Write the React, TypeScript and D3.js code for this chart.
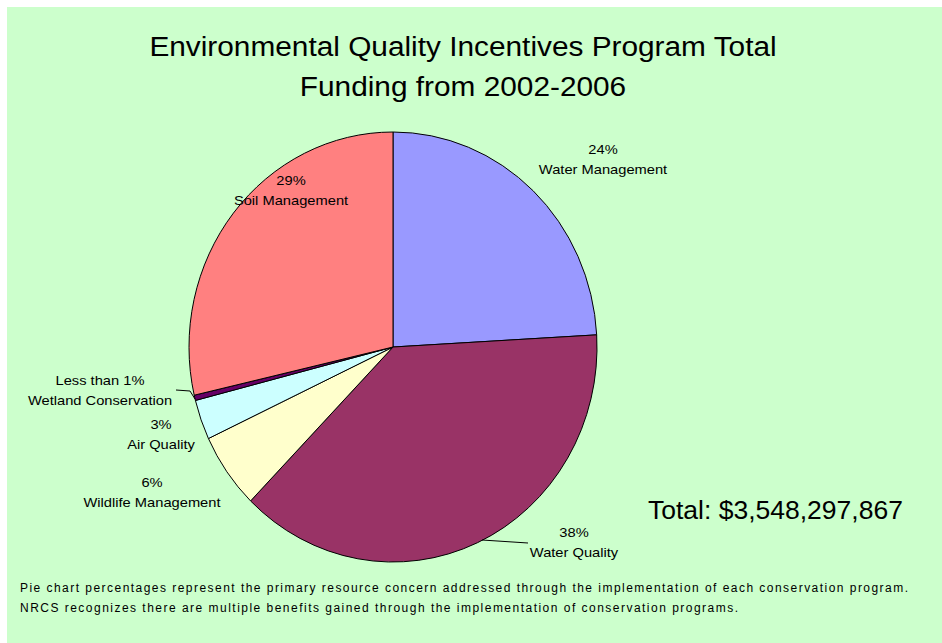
import React from "react";
import * as d3 from "d3";

const segments = ["Water Management", "Water Quality", "Wildlife Management", "Air Quality", "Wetland Conservation", "Soil Management"];
const shares = [24.1, 38.2, 5.7, 3.0, 0.4, 28.6];
const pctLabels = ["24%", "38%", "6%", "3%", "Less than 1%", "29%"];
const colors = ["#9999FF", "#993366", "#FFFFCC", "#CCFFFF", "#660066", "#FF8080"];
const titleLines = ["Environmental Quality Incentives Program Total", "Funding from 2002-2006"];
const totalText = "Total: $3,548,297,867";
const footerLines = [
  "Pie chart percentages represent the primary resource concern addressed through the implementation of each conservation program.",
  "NRCS recognizes there are multiple benefits gained through the implementation of conservation programs.",
];

// layout
const W = 942, H = 643;
const CX = 393, CY = 347, RY = 215, RX = 204;
const labelPos = [
  { x: 603, y: 154 },
  { x: 574, y: 537 },
  { x: 152, y: 487 },
  { x: 161, y: 429 },
  { x: 100, y: 385 },
  { x: 291, y: 185 },
];
const FONT = "Arial, 'Liberation Sans', sans-serif";

function T({ x, y, size, sx = 1, anchor = "middle", children, ...rest }: any) {
  return (
    <text transform={`translate(${x},${y}) scale(${sx},1)`} fontSize={size} textAnchor={anchor} fontFamily={FONT} fill="#000" {...rest}>
      {children}
    </text>
  );
}

export default function App() {
  const pie = d3.pie<number>().sort(null).value((d) => d)(shares);
  const arc = d3.arc<d3.PieArcDatum<number>>().innerRadius(0).outerRadius(RY);
  return (
    <svg width={W} height={H} style={{ position: "absolute", left: 0, top: 0 }}>
      <rect x={7} y={7} width={W - 7} height={H - 7} fill="#CCFFCC" />
      {titleLines.map((t, i) => (
        <T key={i} x={463} y={56 + i * 40} size={28} sx={1.065}>{t}</T>
      ))}
      <g transform={`translate(${CX},${CY}) scale(${RX / RY},1)`}>
        {pie.map((p, i) => (
          <path key={i} d={arc(p) || ""} fill={colors[i]} stroke="#000" strokeWidth={1} vectorEffect="non-scaling-stroke" strokeLinejoin="round" />
        ))}
      </g>
      {segments.map((s, i) => (
        <g key={i}>
          <T x={labelPos[i].x} y={labelPos[i].y} size={13} sx={1.13}>{pctLabels[i]}</T>
          <T x={labelPos[i].x} y={labelPos[i].y + 20} size={13} sx={1.13}>{s}</T>
        </g>
      ))}
      <polyline points="176,390 190,391 195,399" fill="none" stroke="#000" strokeWidth={1} />
      <polyline points="482,540 528,543" fill="none" stroke="#000" strokeWidth={1} />
      <T x={648} y={519} size={26.5} anchor="start">{totalText}</T>
      {footerLines.map((t, i) => (
        <text key={i} x={20} y={592 + i * 20} fontSize={12} fontFamily={FONT} textLength={i === 0 ? 888 : 718} lengthAdjust="spacing">{t}</text>
      ))}
    </svg>
  );
}
